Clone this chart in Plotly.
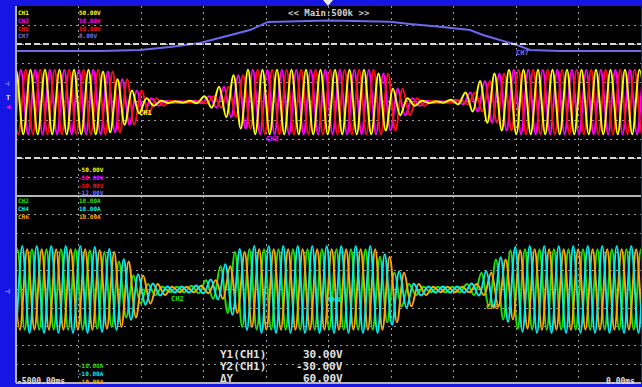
import plotly.graph_objects as go

# ---- canvas geometry -------------------------------------------------------
W, H = 642, 387
ML, MR, MT, MB = 16, 1, 6, 4
PW = W - ML - MR
PH = H - MT - MB
SPLIT = 0.496          # boundary between voltage (upper) and current (lower) panes


def px(x, y):
    """Screen pixel -> paper fraction."""
    return (x - ML) / PW, (H - MB - y) / PH


# ---- acquisition data ------------------------------------------------------
T_START, T_END = -5000.0, 0.0     # ms
PERIOD = 116.0                    # ms per displayed cycle

# peak amplitude of each displayed cycle, phase voltages (V)
V_ENV = [17, 17, 17, 17, 17, 17, 16, 12, 6, 2, 0.6, 0.4, 0.6, 3, 8, 14,
         17, 17, 17, 17, 17, 17, 17, 17, 17, 15, 7, 2, 0.6, 0.4, 1.2, 5,
         11, 15, 17, 17, 17, 17, 17, 17, 17, 17, 17, 17]
V_DC = -0.5

# peak amplitude of each displayed cycle, phase currents (A)
I_ENV = [4.3, 4.3, 4.3, 4.3, 4.3, 4.2, 4.0, 3.0, 1.5, 0.6, 0.3, 0.3, 0.4,
         1.0, 2.5, 4.0, 4.3, 4.3, 4.3, 4.3, 4.3, 4.3, 4.3, 4.3, 4.3, 3.5,
         1.8, 0.6, 0.3, 0.3, 0.3, 0.6, 1.8, 3.2, 4.2, 4.3, 4.3, 4.3, 4.3,
         4.3, 4.3, 4.3, 4.3, 4.3]
I_DC = 0.0

# name, colour, phase (fraction of a cycle), gain
V_CHANNELS = [("CH3", "#ff00ff", 1 / 3, 1.0),
              ("CH5", "#ff1010", 2 / 3, 1.0),
              ("CH1", "#ffff00", 0.0, 1.0)]
I_CHANNELS = [("CH2", "#22e000", 0.10, 1.0),
              ("CH6", "#ffa800", 0.77, 1.0),
              ("CH4", "#00eef0", 0.43, 1.08)]

# CH7 (DC bus) trace: time (ms), volts
CH7_T = [-5000, -4328, -4008, -3768, -3528, -3368, -3288, -3128, -2984,
         -2728, -2488, -2008, -1848, -1608, -1368, -1264, -1128, -992,
         -888, -648, 0]
CH7_V = [3.26, 3.26, 3.37, 3.68, 4.10, 4.63, 4.95, 5.47, 6.32,
         6.42, 6.47, 6.35, 6.10, 5.82, 5.47, 4.95, 4.42, 3.89,
         3.37, 3.26, 3.26]

V_RANGE = [-50, 50]
I_RANGE = [-10, 10]
CH7_RANGE = [-12, 8]
CURSOR_Y1, CURSOR_Y2 = 30.0, -30.0
X_TICKS = [-4500, -4000, -3500, -3000, -2500, -2000, -1500, -1000, -500]
V_TICKS = [-40, -30, -20, -10, 0, 10, 20, 30, 40]
I_TICKS = [-8, -6, -4, -2, 0, 2, 4, 6, 8]


def peaks(env, phase, gain, dc):
    xs, ys = [], []
    for k in range(-1, len(env)):
        a = env[max(k, 0)] * gain
        t = T_START + (k + phase) * PERIOD
        xs += [t, t + PERIOD / 2]
        ys += [dc + a, dc - a]
    return xs, ys


fig = go.Figure()

fig.add_trace(go.Scatter(x=CH7_T, y=CH7_V, xaxis="x", yaxis="y3",
                         mode="lines", line=dict(color="#6a6af0", width=2),
                         hoverinfo="skip"))

for name, col, ph, g in V_CHANNELS:
    xs, ys = peaks(V_ENV, ph, g, V_DC)
    fig.add_trace(go.Scatter(x=xs, y=ys, xaxis="x", yaxis="y", mode="lines",
                             line=dict(color=col, width=2, shape="spline",
                                       smoothing=1.0),
                             name=name, hoverinfo="skip"))

for name, col, ph, g in I_CHANNELS:
    xs, ys = peaks(I_ENV, ph, g, I_DC)
    fig.add_trace(go.Scatter(x=xs, y=ys, xaxis="x2", yaxis="y2", mode="lines",
                             line=dict(color=col, width=2, shape="spline",
                                       smoothing=1.0),
                             name=name, hoverinfo="skip"))

GRID = dict(showgrid=True, gridcolor="#9a9a9a", gridwidth=1,
            griddash="2px,4px", zeroline=False, showticklabels=False,
            ticks="", showline=False, fixedrange=True)

fig.update_layout(
    width=W, height=H,
    margin=dict(l=ML, r=MR, t=MT, b=MB),
    paper_bgcolor="#1616e4",
    plot_bgcolor="#000000",
    showlegend=False,
    xaxis=dict(domain=[0, 1], range=[T_START, T_END], anchor="y",
               tickvals=X_TICKS, **GRID),
    yaxis=dict(domain=[SPLIT, 1], range=V_RANGE, anchor="x",
               tickvals=V_TICKS, **GRID),
    xaxis2=dict(domain=[0, 1], range=[T_START, T_END], anchor="y2",
                matches="x", tickvals=X_TICKS, **GRID),
    yaxis2=dict(domain=[0, SPLIT], range=I_RANGE, anchor="x2",
                tickvals=I_TICKS, **GRID),
    yaxis3=dict(range=CH7_RANGE, overlaying="y", anchor="x", visible=False,
                fixedrange=True),
)

# cursors
for yv in (CURSOR_Y1, CURSOR_Y2):
    fig.add_shape(type="line", xref="x", yref="y", x0=T_START, x1=T_END,
                  y0=yv, y1=yv, line=dict(color="#d8d8d8", width=2,
                                          dash="6px,3px"))

# frame lines
GRAY = "#b4b4b4"
fig.add_shape(type="line", xref="paper", yref="paper", x0=0, x1=1,
              y0=SPLIT, y1=SPLIT, line=dict(color=GRAY, width=2))
fig.add_shape(type="line", xref="paper", yref="paper", x0=0, x1=0,
              y0=0, y1=1, line=dict(color=GRAY, width=2))
fig.add_shape(type="line", xref="paper", yref="paper", x0=0, x1=1,
              y0=0, y1=0, line=dict(color=GRAY, width=2))

# trigger position marker in the top band
a0, b0 = px(323, 0)
a1, _ = px(333, 0)
ac, bc = px(328, 6)
fig.add_shape(type="path", xref="paper", yref="paper",
              path=f"M {a0} {b0} L {a1} {b0} L {ac} {bc} Z",
              fillcolor="#e8e8e8", line=dict(width=0))

MONO = "DejaVu Sans Mono"


def label(text, x, y, color, size=8, anchor="left", yanchor="middle"):
    xp, yp = px(x, y)
    fig.add_annotation(text=text, x=xp, y=yp, xref="paper", yref="paper",
                       showarrow=False, xanchor=anchor, yanchor=yanchor,
                       align="left", font=dict(family=MONO, size=size,
                                               color=color, weight="bold"),
                       borderpad=0)


def block(lines, x, y_top, size=6):
    """Stacked, individually coloured lines as one text block."""
    txt = "<br>".join(f"<span style='color:{c}'>{s}</span>" for s, c in lines)
    label(txt, x, y_top, "#ffffff", size=size, yanchor="top")


YEL, MAG, RED, LAV = "#ffff00", "#ff00ff", "#ff1010", "#7070f0"
GRN, CYN, ORG, WHT = "#22e000", "#00eef0", "#ffa800", "#e0e0e0"

block([("CH1", YEL), ("CH3", MAG), ("CH5", RED), ("CH7", LAV)], 17, 8)
block([("50.00V", YEL), ("50.00V", MAG), ("50.00V", RED), ("8.00V", LAV)], 78, 8)
block([("-50.00V", YEL), ("-50.00V", MAG), ("-50.00V", RED), ("-12.00V", LAV)],
      77, 165)
block([("CH2", GRN), ("CH4", CYN), ("CH6", ORG)], 17, 196)
block([("10.00A", GRN), ("10.00A", CYN), ("10.00A", ORG)], 78, 196)
block([("-10.00A", GRN), ("-10.00A", CYN), ("-10.00A", ORG)], 77, 361)

label("<< Main:500k >>", 287, 13, "#d0d0d0", size=9)
label("CH7", 515, 53, LAV, size=7)
label("CH1", 138, 113, YEL, size=7)
label("CH3", 265, 139, MAG, size=7)
label("CH2", 170, 299, GRN, size=7)
label("CH4", 327, 300, CYN, size=7)
label("CH6", 485, 307, ORG, size=7)

label("-5000.00ms", 16, 381, WHT, size=8)
label("0.00ms", 636, 381, WHT, size=8, anchor="right")

label("Y1(CH1)", 219, 354, WHT, size=11)
label("Y2(CH1)", 219, 366, WHT, size=11)
label("ΔY", 219, 378, WHT, size=11)
label("30.00V", 344, 354, WHT, size=11, anchor="right")
label("-30.00V", 344, 366, WHT, size=11, anchor="right")
label("60.00V", 344, 378, WHT, size=11, anchor="right")

# channel reference markers on the left edge
block([("T", YEL), ("◀", MAG)], 5, 93, size=7)
label("⊣", 4, 84, "#9090ff", size=7)
label("⊣", 4, 291, "#40b0ff", size=8)

fig.write_html("out.html")
